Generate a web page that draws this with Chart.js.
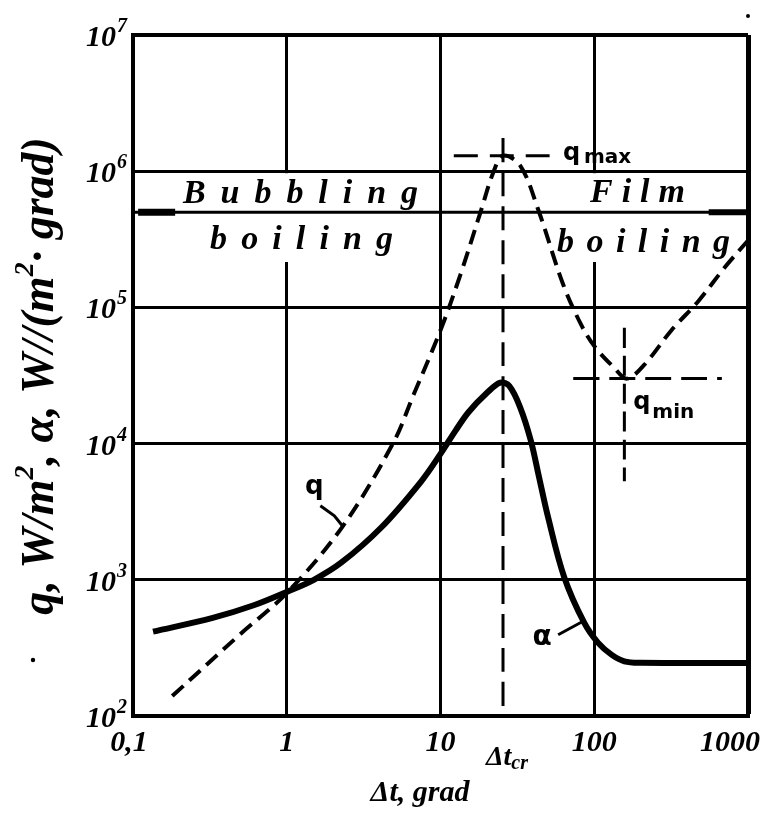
<!DOCTYPE html>
<html>
<head>
<meta charset="utf-8">
<script src="https://cdn.jsdelivr.net/npm/chart.js@4.4.0/dist/chart.umd.min.js"></script>
<style>
  html, body { margin: 0; padding: 0; background: #fff; }
  #wrap { width: 769px; height: 813px; }
</style>
</head>
<body>
<div id="wrap"><canvas id="boilChart" width="769" height="813"></canvas></div>
<script>
'use strict'

// axis ticks
var dtTicks = [0.1, 1, 10, 100, 1000]
var dtTickLabels = ['0,1', '1', '10', '100', '1000']
var yTicks = [1e2, 1e3, 1e4, 1e5, 1e6, 1e7]
var yTickExp = ['2', '3', '4', '5', '6', '7']

// q, heat flux (dashed curve)
var qDt = [0.18, 0.5, 1, 2.3, 4.9, 6.7, 10, 13.5, 18.3, 22.2, 25.5, 33, 43, 62.7, 82, 100, 135, 163, 212, 318, 478, 707, 1000]
var qVal = [140, 400, 800, 2450, 1e4, 2.3e4, 6.8e4, 1.75e5, 5.1e5, 1e6, 1.3e6, 1.1e6, 5.3e5, 1.48e5, 7.5e4, 5.2e4, 3.6e4, 3.0e4, 3.8e4, 6.8e4, 1.12e5, 1.97e5, 3.1e5]

// alpha, heat transfer coefficient (solid curve)
var alphaDt = [0.135, 0.33, 0.61, 1, 1.5, 2.27, 4.1, 7.5, 10, 12.5, 15.2, 20, 24.5, 28, 33, 38.7, 43.7, 50, 63.7, 86, 106, 130, 157, 200, 1000]
var alphaVal = [416, 525, 650, 815, 1000, 1340, 2410, 5290, 8400, 1.24e4, 1.7e4, 2.35e4, 2.8e4, 2.65e4, 1.84e4, 1.05e4, 5.7e3, 2.9e3, 1.05e3, 484, 344, 281, 252, 246, 245]

// marker lines
var dtCr = 25.5
var qMax = 1.3e6
var qMin = 3.0e4
var dtMin = 157
var regionBorder = 5e5

function pts(xs, ys) {
    return xs.map(function (x, i) { return { x: x, y: ys[i] } })
}

var serifBI = '"Liberation Serif", "Times New Roman", serif'

// draw text with its letters spread between x0 and x1
function spreadText(ctx, text, x0, x1, y) {
    var ws = text.split('').map(function (c) { return ctx.measureText(c).width })
    var total = ws.reduce(function (a, b) { return a + b }, 0)
    var gap = (x1 - x0 - total) / (text.length - 1)
    var x = x0
    ctx.textAlign = 'left'
    for (var i = 0; i < text.length; i++) {
        ctx.fillText(text[i], x, y)
        x += ws[i] + gap
    }
}

// parts: [text, size, rise]
function richText(ctx, parts, x, y, align) {
    var widths = parts.map(function (p) {
        ctx.font = 'bold italic ' + p[1] + 'px ' + serifBI
        return ctx.measureText(p[0]).width
    })
    var total = widths.reduce(function (a, b) { return a + b }, 0)
    var cx = align === 'center' ? x - total / 2 : (align === 'right' ? x - total : x)
    ctx.textAlign = 'left'
    parts.forEach(function (p, i) {
        ctx.font = 'bold italic ' + p[1] + 'px ' + serifBI
        ctx.fillText(p[0], cx, y - p[2])
        cx += widths[i]
    })
}

var decorPlugin = {
    id: 'decor',
    beforeDatasetsDraw: function (chart) {
        var ctx = chart.ctx
        var y = chart.scales.y
        var top = y.getPixelForValue(1e6) + 2
        ctx.save()
        ctx.fillStyle = '#fff'
        ctx.fillRect(178, top, 244, 262 - top)
        ctx.fillRect(548, top, 196, 262 - top)
        ctx.restore()
    },
    afterDatasetsDraw: function (chart) {
        var ctx = chart.ctx
        var xs = chart.scales.x
        var ys = chart.scales.y
        ctx.save()
        ctx.fillStyle = '#000'
        ctx.strokeStyle = '#000'
        ctx.textBaseline = 'alphabetic'

        // y tick labels
        yTicks.forEach(function (v, i) {
            var py = ys.getPixelForValue(v)
            ctx.font = 'bold italic 20px ' + serifBI
            var ew = ctx.measureText(yTickExp[i]).width
            ctx.textAlign = 'left'
            ctx.fillText(yTickExp[i], 127 - ew, py - 3)
            ctx.font = 'bold italic 30px ' + serifBI
            ctx.textAlign = 'right'
            ctx.fillText('10', 126 - ew, py + 11)
        })

        // x tick labels
        ctx.font = 'bold italic 30px ' + serifBI
        dtTicks.forEach(function (v, i) {
            var px = xs.getPixelForValue(v)
            if (i === 0) px -= 4
            ctx.textAlign = i === dtTicks.length - 1 ? 'right' : 'center'
            if (i === dtTicks.length - 1) px += 12
            ctx.fillText(dtTickLabels[i], px, 751)
        })

        // region names
        ctx.font = 'bold italic 34px ' + serifBI
        spreadText(ctx, 'Bubbling', 183, 418, 203)
        spreadText(ctx, 'boiling', 210, 393, 249)
        spreadText(ctx, 'Film', 590, 685, 202)
        spreadText(ctx, 'boiling', 557, 730, 252)

        // q max / q min labels
        var pMax = xs.getPixelForValue(58)
        var yMax = ys.getPixelForValue(qMax)
        ctx.textAlign = 'left'
        ctx.font = 'bold 24px "DejaVu Sans", sans-serif'
        ctx.fillText('q', pMax + 5, yMax + 4)
        ctx.font = 'bold 20px "DejaVu Sans", sans-serif'
        ctx.fillText('max', pMax + 26, yMax + 7)

        var pMin = xs.getPixelForValue(dtMin)
        var yMin = ys.getPixelForValue(qMin)
        ctx.font = 'bold 24px "DejaVu Sans", sans-serif'
        ctx.fillText('q', pMin + 9, yMin + 30)
        ctx.font = 'bold 20px "DejaVu Sans", sans-serif'
        ctx.fillText('min', pMin + 28, yMin + 39)

        // curve labels with leaders
        var qa = { x: xs.getPixelForValue(2.3), y: ys.getPixelForValue(2450) }
        ctx.lineWidth = 3
        ctx.beginPath()
        ctx.moveTo(qa.x - 22, qa.y - 21)
        ctx.lineTo(qa.x - 8, qa.y - 11)
        ctx.lineTo(qa.x, qa.y - 1)
        ctx.stroke()
        ctx.font = 'bold 26px "DejaVu Sans", sans-serif'
        ctx.textAlign = 'center'
        ctx.fillText('q', qa.x - 28, qa.y - 33)

        var aa = { x: xs.getPixelForValue(86), y: ys.getPixelForValue(484) }
        ctx.beginPath()
        ctx.moveTo(aa.x - 26, aa.y + 12)
        ctx.lineTo(aa.x - 2, aa.y - 1)
        ctx.stroke()
        ctx.font = 'bold 28px "DejaVu Sans", sans-serif'
        ctx.fillText('\u03b1', aa.x - 42, aa.y + 22)

        // delta t critical
        var pcr = xs.getPixelForValue(dtCr)
        richText(ctx, [['\u0394t', 28, 0], ['cr', 20, -4]], pcr + 4, 765, 'center')

        // x title
        richText(ctx, [['\u0394t, grad', 30, 0]], 420, 801, 'center')

        // y title
        ctx.save()
        ctx.translate(53, 376)
        ctx.rotate(-Math.PI / 2)
        richText(ctx, [['q, W/m', 46, 0], ['2', 28, 20], [', \u03b1, W//(m', 46, 0], ['2', 28, 20], ['\u00b7 grad)', 46, 0]], 0, 0, 'center')
        ctx.restore()

        // specks from the scan
        ctx.beginPath()
        ctx.arc(33, 660, 2.2, 0, Math.PI * 2)
        ctx.arc(748, 16, 2, 0, Math.PI * 2)
        ctx.fill()
        ctx.restore()
    }
}

var lineBase = {
    borderColor: '#000',
    pointRadius: 0,
    fill: false,
    tension: 0.35
}

function ds(label, data, extra) {
    return Object.assign({ label: label, data: data }, lineBase, extra)
}

var boilCtx = document.getElementById('boilChart').getContext('2d')

new Chart(boilCtx, {
    type: 'line',
    data: {
        datasets: [
            ds('q', pts(qDt, qVal), { borderWidth: 4, borderDash: [15, 8] }),
            ds('alpha', pts(alphaDt, alphaVal), { borderWidth: 6 }),
            ds('dt cr', [{ x: dtCr, y: 1.75e6 }, { x: dtCr, y: 100 }], { borderWidth: 3, borderDash: [24, 10] }),
            ds('q max', [{ x: 12.2, y: qMax }, { x: 58, y: qMax }], { borderWidth: 3, borderDash: [24, 12] }),
            ds('q min h', [{ x: 73, y: qMin }, { x: 676, y: qMin }], { borderWidth: 3, borderDash: [26, 10] }),
            ds('q min v', [{ x: dtMin, y: 7.1e4 }, { x: dtMin, y: 5.3e3 }], { borderWidth: 3, borderDash: [20, 8] }),
            ds('region', [{ x: 0.1, y: regionBorder }, { x: 1000, y: regionBorder }], { borderWidth: 3 }),
            ds('arrow l', [{ x: 0.108, y: regionBorder }, { x: 0.188, y: regionBorder }], { borderWidth: 7 }),
            ds('arrow r', [{ x: 555, y: regionBorder }, { x: 1000, y: regionBorder }], { borderWidth: 6 })
        ]
    },
    options: {
        responsive: false,
        animation: false,
        layout: { padding: { left: 133, right: 21, top: 35, bottom: 97 } },
        plugins: {
            legend: { display: false },
            tooltip: { enabled: false }
        },
        scales: {
            x: {
                type: 'logarithmic',
                min: 0.1,
                max: 1000,
                afterBuildTicks: function (s) { s.ticks = dtTicks.map(function (v) { return { value: v } }) },
                afterFit: function (s) { s.height = 0 },
                ticks: { display: false },
                grid: {
                    color: '#000',
                    lineWidth: function (c) { return c.tick && c.tick.value === 1000 ? 5 : 3 },
                    drawTicks: false
                },
                border: { display: true, color: '#000', width: 4 }
            },
            y: {
                type: 'logarithmic',
                min: 100,
                max: 1e7,
                afterBuildTicks: function (s) { s.ticks = yTicks.map(function (v) { return { value: v } }) },
                afterFit: function (s) { s.width = 0 },
                ticks: { display: false },
                grid: {
                    color: '#000',
                    lineWidth: function (c) { return c.tick && c.tick.value === 1e7 ? 4 : 3 },
                    drawTicks: false
                },
                border: { display: true, color: '#000', width: 4 }
            }
        }
    },
    plugins: [decorPlugin]
})
</script>
</body>
</html>
